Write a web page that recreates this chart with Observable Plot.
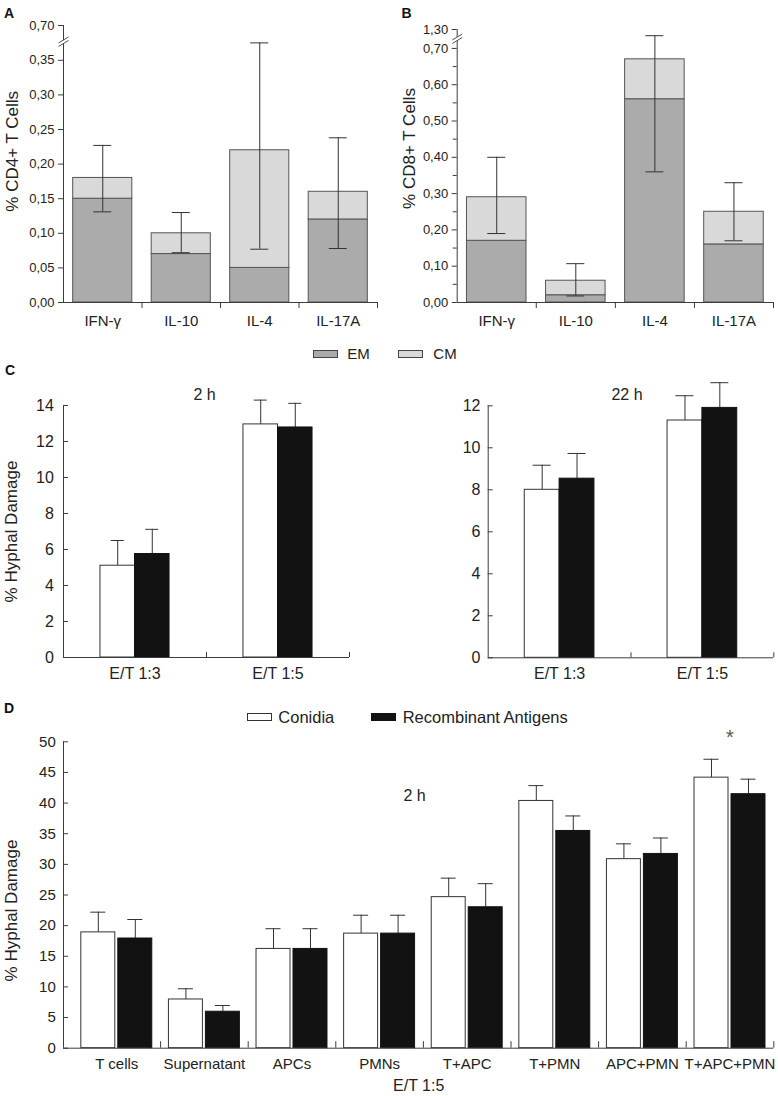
<!DOCTYPE html>
<html>
<head>
<meta charset="utf-8">
<script src="https://cdn.jsdelivr.net/npm/d3@7"></script>
<script src="https://cdn.jsdelivr.net/npm/@observablehq/plot@0.6"></script>
<style>
  html, body { margin: 0; padding: 0; background: #fff; }
  #root { position: relative; width: 778px; height: 1096px; overflow: hidden; background: #fff;
          font-family: 'Liberation Sans', Arial, Helvetica, sans-serif; color: #222; }
  #root svg { position: absolute; background: transparent; }
  .abs { position: absolute; white-space: nowrap; z-index: 5; }
  .letter { font-weight: bold; font-size: 14px; line-height: 14px; color: #111; }
  .sw { position: absolute; box-sizing: border-box; width: 25px; height: 8px; z-index: 5; }
</style>
</head>
<body>
<div id="root"></div>
<script>
// ---------------- DATA ----------------
const cytokines = ["IFN-γ", "IL-10", "IL-4", "IL-17A"];
// Panel A (% CD4+ T cells): EM part and EM+CM total, error bar ends
const cd4EM = [0.15, 0.07, 0.05, 0.12];
const cd4Total = [0.18, 0.10, 0.22, 0.16];
const cd4ErrHigh = [0.227, 0.13, 0.377, 0.238];
const cd4ErrLow = [0.131, 0.072, 0.077, 0.078];
const cd4Ticks = [0, 0.05, 0.10, 0.15, 0.20, 0.25, 0.30, 0.35, 0.70];
// Panel B (% CD8+ T cells)
const cd8EM = [0.17, 0.02, 0.56, 0.16];
const cd8Total = [0.29, 0.06, 0.67, 0.25];
const cd8ErrHigh = [0.40, 0.107, 0.735, 0.33];
const cd8ErrLow = [0.19, 0.018, 0.36, 0.17];
const cd8Ticks = [0, 0.10, 0.20, 0.30, 0.40, 0.50, 0.60, 0.70, 1.30];
const cd8MinorTicks = [0.05, 0.15, 0.25, 0.35, 0.45, 0.55, 0.65];
const subsetLabels = ["EM", "CM"];

// Panel C (% hyphal damage)
const ratios = ["E/T 1:3", "E/T 1:5"];
const h2Conidia = [5.1, 12.95];
const h2ConidiaErr = [6.5, 14.3];
const h2Recomb = [5.75, 12.78];
const h2RecombErr = [7.12, 14.12];
const h2Ticks = [0, 2, 4, 6, 8, 10, 12, 14];
const h22Conidia = [8.0, 11.3];
const h22ConidiaErr = [9.17, 12.48];
const h22Recomb = [8.53, 11.9];
const h22RecombErr = [9.73, 13.1];
const h22Ticks = [0, 2, 4, 6, 8, 10, 12];

// Panel D
const cellTypes = ["T cells", "Supernatant", "APCs", "PMNs", "T+APC", "T+PMN", "APC+PMN", "T+APC+PMN"];
const dConidia = [18.9, 7.95, 16.2, 18.7, 24.65, 40.35, 30.85, 44.15];
const dConidiaErr = [22.2, 9.7, 19.5, 21.7, 27.75, 42.85, 33.35, 47.15];
const dRecomb = [17.9, 5.95, 16.2, 18.7, 23.0, 35.45, 31.7, 41.45];
const dRecombErr = [21.0, 6.97, 19.5, 21.7, 26.85, 37.9, 34.3, 43.9];
const dTicks = [0, 5, 10, 15, 20, 25, 30, 35, 40, 45, 50];
const dSignificant = ["T+APC+PMN"];
const seriesLabels = ["Conidia", "Recombinant Antigens"];

// ---------------- STYLE ----------------
const FONT = "'Liberation Sans', Arial, Helvetica, sans-serif";
const AXIS = "#3c3c3c";
const TXT = "#222";
const EM_FILL = "#ababab";
const CM_FILL = "#d9d9d9";
const BAR_STROKE = "#555";
const fmtComma = d => d.toFixed(2).replace(".", ",");

const slashSym = {draw(ctx) {
  ctx.moveTo(-5, 0.5); ctx.lineTo(5, -5.5);
  ctx.moveTo(-5, 4); ctx.lineTo(5, -2);
}};
const gapSym = {draw(ctx) {
  ctx.moveTo(-2, -1.3); ctx.lineTo(2, -3.7); ctx.lineTo(2, -0.2); ctx.lineTo(-2, 2.2); ctx.closePath();
}};

const root = document.getElementById("root");
function place(svg, left, top, xFont, yFont) {
  svg.style.left = left + "px";
  svg.style.top = top + "px";
  svg.querySelectorAll('[aria-label="x-axis tick label"]').forEach(g => { g.setAttribute("font-size", xFont); g.style.fontSize = xFont + "px"; });
  svg.querySelectorAll('[aria-label="y-axis tick label"]').forEach(g => { g.setAttribute("font-size", yFont); g.style.fontSize = yFont + "px"; });
  root.appendChild(svg);
}

function stackedPanel(o) {
  const data = o.cats.map((c, i) => ({c, em: o.em[i], total: o.total[i], hi: o.hi[i], lo: o.lo[i]}));
  const pad = 0.247;
  const step = (o.width - o.mL - o.mR) / o.cats.length;
  const bw = step * (1 - pad);
  const capIn = (bw - 18) / 2;
  const frameH = o.height - o.mT - o.mB;
  const marks = [
    Plot.barY(data, {x: "c", y1: 0, y2: "em", fill: EM_FILL, stroke: BAR_STROKE, strokeWidth: 1}),
    Plot.barY(data, {x: "c", y1: "em", y2: "total", fill: CM_FILL, stroke: BAR_STROKE, strokeWidth: 1}),
    Plot.ruleX(data, {x: "c", y1: "lo", y2: "hi", stroke: "#333", strokeWidth: 1}),
    Plot.tickY(data, {x: "c", y: "hi", insetLeft: capIn, insetRight: capIn, stroke: "#333"}),
    Plot.tickY(data, {x: "c", y: "lo", insetLeft: capIn, insetRight: capIn, stroke: "#333"}),
    Plot.ruleY([0], {stroke: AXIS}),
    Plot.ruleX([o.cats[0]], {x: d => d, dx: -step / 2, stroke: AXIS}),
    Plot.tickX(o.cats, {x: d => d, dx: step / 2, insetTop: frameH, insetBottom: -6, stroke: AXIS}),
    Plot.axisX({tickSize: 0, tickPadding: 13, fontSize: 15, fill: TXT, label: null}),
    Plot.axisY({ticks: o.ticks, tickFormat: fmtComma, tickSize: 5, tickPadding: 4, fontSize: 13, fill: TXT, stroke: AXIS, label: null})
  ];
  if (o.minor) marks.push(Plot.axisY({ticks: o.minor, tickFormat: () => "", tickSize: 4, stroke: AXIS, label: null}));
  marks.push(
    Plot.dot([o.breakVal], {y: d => d, frameAnchor: "left", symbol: gapSym, fill: "white", stroke: "none"}),
    Plot.dot([o.breakVal], {y: d => d, frameAnchor: "left", symbol: slashSym, fill: "none", stroke: AXIS, strokeWidth: 0.9}),
    Plot.text([o.title], {text: d => d, frameAnchor: "left", textAnchor: "middle", lineAnchor: "middle", rotate: -90, dx: o.tdx, dy: o.tdy, fontSize: 17, fill: TXT})
  );
  return Plot.plot({
    width: o.width, height: o.height,
    marginLeft: o.mL, marginRight: o.mR, marginTop: o.mT, marginBottom: o.mB,
    style: {fontFamily: FONT, fontSize: "13px", background: "transparent", overflow: "visible"},
    x: {type: "band", domain: o.cats, paddingInner: pad, paddingOuter: pad / 2, align: 0.5, round: false},
    y: {type: "linear", domain: o.yDomain, range: o.yRange},
    marks
  });
}

function groupedPanel(o) {
  const data = o.cats.map((c, i) => ({c, w: o.w[i], wErr: o.wErr[i], b: o.b[i], bErr: o.bErr[i]}));
  const pad = o.pad;
  const insetL = o.insetL || 0;
  const step = (o.width - o.mL - o.mR - insetL) / o.cats.length;
  const bw = step * (1 - pad);
  const gap = o.gap || 0;
  const half = bw / 2 + gap / 2;
  const off = (bw + gap) / 4;
  const capIn = (bw - o.capW) / 2;
  const frameH = o.height - o.mT - o.mB;
  const marks = [
    Plot.ruleX(data, {x: "c", y1: "w", y2: "wErr", dx: -off, stroke: "#333"}),
    Plot.ruleX(data, {x: "c", y1: "b", y2: "bErr", dx: off, stroke: "#333"}),
    Plot.tickY(data, {x: "c", y: "wErr", dx: -off, insetLeft: capIn, insetRight: capIn, stroke: "#333"}),
    Plot.tickY(data, {x: "c", y: "bErr", dx: off, insetLeft: capIn, insetRight: capIn, stroke: "#333"}),
    Plot.barY(data, {x: "c", y1: 0, y2: "w", insetRight: half, fill: "white", stroke: "#333", strokeWidth: 1}),
    Plot.barY(data, {x: "c", y1: 0, y2: "b", insetLeft: half, fill: "#121212", stroke: "#121212", strokeWidth: 1}),
    Plot.ruleY([0], {stroke: AXIS}),
    Plot.ruleX([o.cats[0]], {x: d => d, dx: -step / 2 - insetL, stroke: AXIS}),
    Plot.tickX(o.cats, {x: d => d, dx: step / 2, insetTop: frameH - o.xTick, stroke: AXIS}),
    Plot.axisX({tickSize: 0, tickPadding: o.xPad, fontSize: o.xFont, fill: TXT, label: null}),
    Plot.axisY({ticks: o.ticks, tickFormat: d => String(d), tickSize: -5, tickPadding: o.yPad, fontSize: o.yFont, fill: TXT, stroke: AXIS, label: null})
  ];
  if (o.title) marks.push(Plot.text([o.title], {text: d => d, frameAnchor: "left", textAnchor: "middle", lineAnchor: "middle", rotate: -90, dx: o.tdx, dy: o.tdy, fontSize: 17, fill: TXT}));
  if (o.inner) marks.push(Plot.text([o.inner], {text: d => d, frameAnchor: "top", textAnchor: "middle", lineAnchor: "middle", dx: o.idx, dy: o.idy, fontSize: 16, fill: TXT}));
  if (o.extra) marks.push(...o.extra);
  return Plot.plot({
    width: o.width, height: o.height,
    marginLeft: o.mL, marginRight: o.mR, marginTop: o.mT, marginBottom: o.mB,
    style: {fontFamily: FONT, fontSize: o.yFont + "px", background: "transparent", overflow: "visible"},
    x: {type: "band", domain: o.cats, paddingInner: pad, paddingOuter: pad / 2, align: 0.5, round: false, insetLeft: insetL},
    y: {type: "linear", domain: o.yDomain},
    marks
  });
}

// Panel A
place(stackedPanel({
  cats: cytokines, em: cd4EM, total: cd4Total, hi: cd4ErrHigh, lo: cd4ErrLow,
  yDomain: [0, 0.375, 0.70], yRange: [302, 42.5, 25], ticks: cd4Ticks, breakVal: 0.385,
  title: "% CD4+ T Cells", tdx: -51, tdy: -12.7,
  width: 390, height: 335, mL: 63, mR: 13, mT: 25, mB: 33
}), 0, 0, 15, 13);

// Panel B
place(stackedPanel({
  cats: cytokines, em: cd8EM, total: cd8Total, hi: cd8ErrHigh, lo: cd8ErrLow,
  yDomain: [0, 0.74, 1.30], yRange: [302, 33.4, 29], ticks: cd8Ticks, minor: cd8MinorTicks, breakVal: 0.7245,
  title: "% CD8+ T Cells", tdx: -47.7, tdy: -17.5,
  width: 388, height: 335, mL: 66.7, mR: 5, mT: 29, mB: 33
}), 390, 0, 15, 13);

// Panel C left (2 h)
place(groupedPanel({
  cats: ratios, w: h2Conidia, wErr: h2ConidiaErr, b: h2Recomb, bErr: h2RecombErr,
  yDomain: [0, 14], ticks: h2Ticks, pad: 0.517, capW: 13, xTick: 5,
  xPad: 10, xFont: 16, yPad: 14.7, yFont: 16,
  title: "% Hyphal Damage", tdx: -52, tdy: 0,
  inner: "2 h", idx: -2, idy: -11,
  width: 390, height: 320, mL: 63, mR: 41, mT: 30, mB: 38
}), 0, 375, 16, 16);

// Panel C right (22 h)
place(groupedPanel({
  cats: ratios, w: h22Conidia, wErr: h22ConidiaErr, b: h22Recomb, bErr: h22RecombErr,
  yDomain: [0, 12], ticks: h22Ticks, pad: 0.512, capW: 18, xTick: 5,
  xPad: 10, xFont: 16, yPad: 12.7, yFont: 16,
  inner: "22 h", idx: -4, idy: -11,
  width: 388, height: 320, mL: 97.7, mR: 4.7, mT: 30.3, mB: 37.7
}), 390, 375, 16, 16);

// Panel D
place(groupedPanel({
  cats: cellTypes, w: dConidia, wErr: dConidiaErr, b: dRecomb, bErr: dRecombErr,
  yDomain: [0, 50], ticks: dTicks, pad: 0.19, gap: 3, capW: 15, xTick: 6.5, insetL: 9.5,
  xPad: 10.5, xFont: 15, yPad: 12.7, yFont: 15,
  title: "% Hyphal Damage", tdx: -52, tdy: 15.5,
  inner: "2 h", idx: -4, idy: 53.7,
  extra: [
    Plot.text(dSignificant, {x: d => d, text: () => "*", frameAnchor: "top", lineAnchor: "middle", dy: -4, fontSize: 20, fill: "#555"}),
    Plot.text(["E/T 1:5"], {text: d => d, frameAnchor: "bottom", textAnchor: "middle", lineAnchor: "middle", dy: 37.5, fontSize: 16, fill: TXT})
  ],
  width: 778, height: 396, mL: 63, mR: 4.7, mT: 41.3, mB: 48.3
}), 0, 700, 15, 15);

// ---------------- HTML overlays: panel letters and legends ----------------
function addText(txt, left, top, size, cls) {
  const d = document.createElement("div");
  d.className = "abs" + (cls ? " " + cls : "");
  d.textContent = txt;
  d.style.left = left + "px";
  d.style.top = top + "px";
  if (size) { d.style.fontSize = size + "px"; d.style.lineHeight = size + "px"; }
  root.appendChild(d);
}
function addSwatch(left, top, fill, border) {
  const d = document.createElement("div");
  d.className = "sw";
  d.style.left = left + "px";
  d.style.top = top + "px";
  d.style.background = fill;
  d.style.border = "1px solid " + border;
  root.appendChild(d);
}
addText("A", 4, 6.4, null, "letter");
addText("B", 401.5, 6.4, null, "letter");
addText("C", 5, 363.1, null, "letter");
addText("D", 4, 701.4, null, "letter");

addSwatch(313, 350, EM_FILL, "#444");
addText(subsetLabels[0], 347.3, 346.3, 15);
addSwatch(398, 350, CM_FILL, "#444");
addText(subsetLabels[1], 433.3, 346.3, 15);

addSwatch(247, 713, "#fff", "#333");
addText(seriesLabels[0], 278.3, 708.7, 16.5);
addSwatch(371, 713, "#121212", "#121212");
addText(seriesLabels[1], 402.7, 708.7, 16.5);
</script>
</body>
</html>
